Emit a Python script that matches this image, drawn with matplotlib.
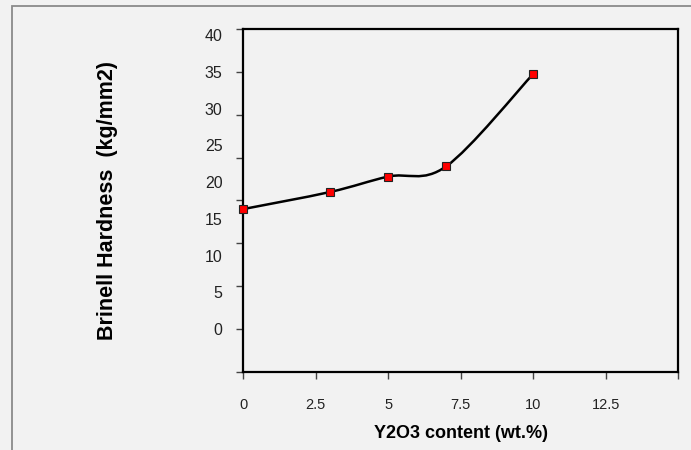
import numpy as np
import matplotlib
matplotlib.use("Agg")
import matplotlib.pyplot as plt
from matplotlib.patches import Rectangle
from matplotlib.path import Path
from matplotlib.patches import PathPatch

# ---- data ----
y2o3_content = [0, 3, 5, 7, 10]
hardness = [14.0, 16.0, 17.8, 19.0, 29.8]
x_ticks = [0, 2.5, 5, 7.5, 10, 12.5, 15]
x_tick_labels = ["0", "2.5", "5", "7.5", "10", "12.5", ""]
y_ticks = [-5, 0, 5, 10, 15, 20, 25, 30, 35]
y_label_values = [0, 5, 10, 15, 20, 25, 30, 35, 40]
x_label = "Y2O3 content (wt.%)"
y_label = "Brinell Hardness  (kg/mm2)"

plt.rcParams['font.family'] = ['Liberation Sans', 'DejaVu Sans']

bg = "#f2f2f2"
fig = plt.figure(figsize=(6.91, 4.50), dpi=100, facecolor=bg)
ax = fig.add_axes([243.3 / 691, 1 - 371.7 / 450, (678.3 - 243.3) / 691, (371.7 - 29.3) / 450])
ax.set_facecolor(bg)

# outer chart frame (extends past right/bottom edge)
top = 1 - 5.7 / 450
fig.patches.append(Rectangle((12 / 691, -0.2), 1.2, 0.2 + top,
                             transform=fig.transFigure, fill=False,
                             edgecolor="#8a8a8a", linewidth=1.3, zorder=0))

ax.set_xlim(0, 15)
ax.set_ylim(-5, 35)

for s in ax.spines.values():
    s.set_linewidth(1.6)
    s.set_color("black")

ax.set_xticks(x_ticks)
ax.set_xticklabels(x_tick_labels, fontsize=10.5, color="#222222")
ax.set_yticks(y_ticks)
ax.set_yticklabels([])
ax.tick_params(axis='x', direction='out', length=5, width=1, color="#444444", pad=14)
ax.tick_params(axis='y', direction='out', length=5, width=1, color="#444444")

# labels as typed on the chart (offset scale relative to ticks)
ratio = 7.34 / 8.563
sec = ax.secondary_yaxis('left', functions=(lambda v: v / ratio, lambda v: v * ratio))
sec.set_yticks(y_label_values)
sec.set_yticklabels([str(v) for v in y_label_values], fontsize=11.5, color="#222222")
sec.tick_params(length=0, pad=15)
sec.spines['left'].set_visible(False)

ax.set_xlabel(x_label, fontsize=13, fontweight='bold', labelpad=9)
fig.text(108 / 691, 1 - 201 / 450, y_label, rotation=90, fontsize=15.5,
         fontweight='bold', ha='center', va='center')

# Excel-style smoothed line (Catmull-Rom Bezier in display space)
pts = ax.transData.transform(np.column_stack([y2o3_content, hardness]))
n = len(pts)
verts = [pts[0]]
codes = [Path.MOVETO]
for i in range(n - 1):
    p0 = pts[i - 1] if i > 0 else pts[i]
    p1 = pts[i]
    p2 = pts[i + 1]
    p3 = pts[i + 2] if i + 2 < n else pts[i + 1]
    c1 = p1 + (p2 - p0) / 6.0
    c2 = p2 - (p3 - p1) / 6.0
    verts += [c1, c2, p2]
    codes += [Path.CURVE4] * 3
verts = ax.transData.inverted().transform(np.array(verts))
ax.add_patch(PathPatch(Path(verts, codes), fill=False, edgecolor='black',
                       linewidth=1.8, zorder=3, clip_on=False))

ax.plot(y2o3_content, hardness, linestyle='none', marker='s', markersize=5.5,
        markerfacecolor='#ff0000', markeredgecolor='#222222', markeredgewidth=0.8,
        zorder=4, clip_on=False)

fig.savefig("out.png", dpi=100, facecolor=bg)
